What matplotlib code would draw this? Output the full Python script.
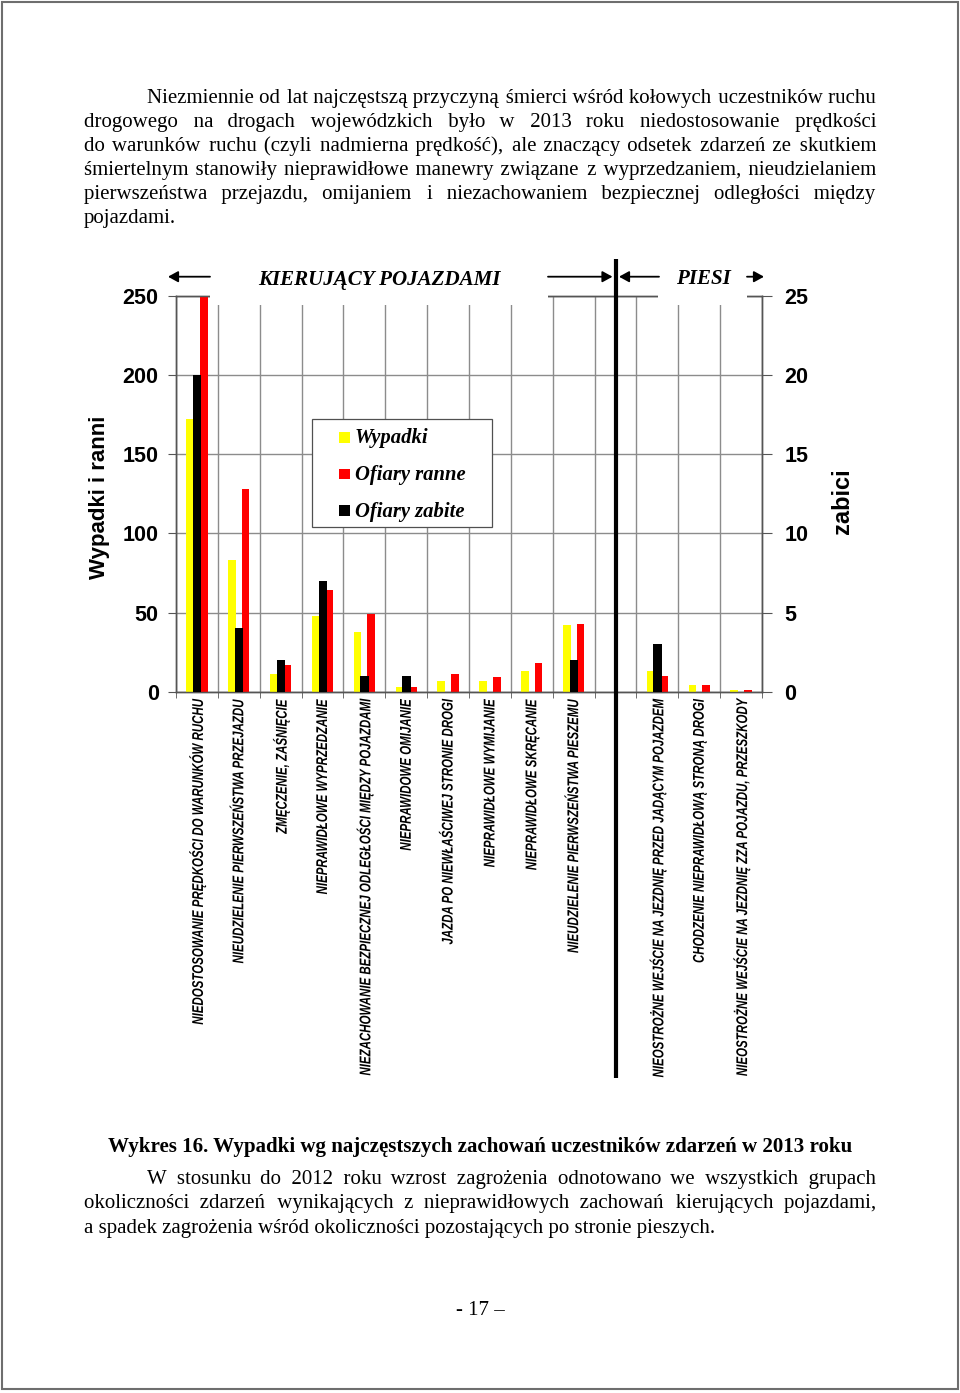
import matplotlib
matplotlib.use('Agg')
import matplotlib.pyplot as plt
import matplotlib.transforms as mtransforms
from matplotlib.patches import Rectangle, FancyArrowPatch
from matplotlib.lines import Line2D
from matplotlib import patheffects
import numpy as np

# ---------------- data ----------------
categories = [
    "NIEDOSTOSOWANIE PRĘDKOŚCI DO WARUNKÓW RUCHU",
    "NIEUDZIELENIE PIERWSZEŃSTWA PRZEJAZDU",
    "ZMĘCZENIE, ZAŚNIĘCIE",
    "NIEPRAWIDŁOWE WYPRZEDZANIE",
    "NIEZACHOWANIE BEZPIECZNEJ ODLEGŁOŚCI MIĘDZY POJAZDAMI",
    "NIEPRAWIDOWE OMIJANIE",
    "JAZDA PO NIEWŁAŚCIWEJ STRONIE DROGI",
    "NIEPRAWIDŁOWE WYMIJANIE",
    "NIEPRAWIDŁOWE SKRĘCANIE",
    "NIEUDZIELENIE PIERWSZEŃSTWA PIESZEMU",
    "",
    "NIEOSTROŻNE WEJŚCIE NA JEZDNIĘ PRZED JADĄCYM POJAZDEM",
    "CHODZENIE NIEPRAWIDŁOWĄ STRONĄ DROGI",
    "NIEOSTROŻNE WEJŚCIE NA JEZDNIĘ ZZA POJAZDU, PRZESZKODY",
]
wypadki = [172, 83, 11, 48, 38, 3, 7, 7, 13, 42, 0, 13, 4, 1]
ranni = [262, 128, 17, 64, 49, 3, 11, 9, 18, 43, 0, 10, 4, 1]
zabici = [20, 4, 2, 7, 1, 1, 0, 0, 0, 2, 0, 3, 0, 0]
left_ticks = [0, 50, 100, 150, 200, 250]
right_ticks = [0, 5, 10, 15, 20, 25]
series_names = ["Wypadki", "Ofiary ranne", "Ofiary zabite"]
series_colors = ["#FFFF00", "#FF0000", "#000000"]
left_label = "Wypadki i ranni"
right_label = "zabici"
group_drivers = "KIERUJĄCY POJAZDAMI"
group_peds = "PIESI"

para1 = [
    "Niezmiennie od lat najczęstszą przyczyną śmierci wśród kołowych uczestników ruchu",
    "drogowego na drogach wojewódzkich było w 2013 roku niedostosowanie prędkości",
    "do warunków ruchu (czyli nadmierna prędkość), ale znaczący odsetek zdarzeń ze skutkiem",
    "śmiertelnym stanowiły nieprawidłowe manewry związane z wyprzedzaniem, nieudzielaniem",
    "pierwszeństwa przejazdu, omijaniem i niezachowaniem bezpiecznej odległości między",
    "pojazdami.",
]
caption = "Wykres 16. Wypadki wg najczęstszych zachowań uczestników zdarzeń w 2013 roku"
para2 = [
    "W stosunku do 2012 roku wzrost zagrożenia odnotowano we wszystkich grupach",
    "okoliczności zdarzeń wynikających z nieprawidłowych zachowań kierujących pojazdami,",
    "a spadek zagrożenia wśród okoliczności pozostających po stronie pieszych.",
]
page_no = "- 17 –"

# ---------------- setup ----------------
plt.rcParams['font.family'] = ['Liberation Sans', 'DejaVu Sans']
W, H = 960, 1393
fig = plt.figure(figsize=(W / 100, H / 100), dpi=100)
fig.patch.set_facecolor('white')
renderer = fig.canvas.get_renderer()


def fx(x):
    return x / W


def fy(y):
    return 1 - y / H


def text_width(s, size, **kw):
    t = fig.text(0, 0, s, fontsize=size, **kw)
    w = t.get_window_extent(renderer).width
    t.remove()
    return w


def fit_size(s, target, **kw):
    return 10 * target / text_width(s, 10, **kw)


class Condense(patheffects.AbstractPathEffect):
    """Squeeze glyphs along the text direction, keeping the text end fixed."""

    def __init__(self, factor):
        super().__init__()
        self.factor = factor

    def draw_path(self, renderer, gc, tpath, affine, rgbFace=None):
        v = tpath.vertices
        x1 = v[:, 0].max() if len(v) else 0.0
        local = mtransforms.Affine2D().translate(-x1, 0).scale(self.factor, 1).translate(x1, 0)
        renderer.draw_path(gc, tpath, local + affine, rgbFace)


SERIF = dict(family=['Liberation Serif', 'DejaVu Serif'])
SANS = ['Liberation Sans', 'DejaVu Sans']


def justified_string(s, total, size, **kw):
    """Build one string whose word gaps (spaces + hair spaces) fill `total` px."""
    words = s.split(' ')
    base = text_width('aa', size, **kw)
    sp = text_width('a a', size, **kw) - base
    hair = text_width('a\u200aa', size, **kw) - base
    if hair < 0.3:
        hair = text_width('a\u2009a', size, **kw) - base
        hch = '\u2009'
    else:
        hch = '\u200a'
    widths = sum(text_width(w, size, **kw) for w in words)
    gap = (total - widths) / (len(words) - 1)
    out = words[0]
    err = 0.0
    for w in words[1:]:
        want = gap + err
        n = max(1, int(want // sp))
        r = want - n * sp
        m = max(0, int(round(r / hair))) if hair > 0.3 else 0
        err = want - (n * sp + m * hair)
        out += ' ' * n + hch * m + w
    return out


def draw_line(s, x0, x1, ybase, size, justify, **kw):
    txt = justified_string(s, x1 - x0, size, **kw) if justify else s
    fig.text(fx(x0), fy(ybase), txt, fontsize=size, va='baseline', ha='left', **kw)


# ---------------- body text ----------------
body_size = fit_size(para2[-1], 632, **SERIF)
base1 = [102.7, 126.7, 150.7, 174.7, 198.7, 222.7]
for i, line in enumerate(para1):
    x0 = 147 if i == 0 else 84
    draw_line(line, x0, 876, base1[i], body_size, i < len(para1) - 1, **SERIF)

cap_size = fit_size(caption, 746, weight='bold', **SERIF)
fig.text(0.5, fy(1151.7), caption, fontsize=cap_size, weight='bold', ha='center',
         va='baseline', **SERIF)
base2 = [1184.3, 1208.3, 1232.5]
for i, line in enumerate(para2):
    x0 = 147 if i == 0 else 84
    draw_line(line, x0, 876, base2[i], body_size, i < len(para2) - 1, **SERIF)
fig.text(fx(480), fy(1315), page_no, fontsize=body_size, ha='center', va='baseline', **SERIF)

# page frame
fig.add_artist(Rectangle((fx(2), fy(1389)), 956 / W, 1387 / H, transform=fig.transFigure,
                         fill=False, edgecolor='#6e6e6e', lw=1.5, zorder=10))

# ---------------- chart ----------------
ax = fig.add_axes([fx(176), fy(691.7), (762 - 176) / W, (691.7 - 296) / H])
x = np.arange(len(categories))
ax.set_xlim(-0.5, len(categories) - 0.5)
ax.set_ylim(left_ticks[0], left_ticks[-1])
ax.bar(x - 0.165, wypadki, 0.18, color=series_colors[0], lw=0, zorder=3)
ax.bar(x + 0.165, ranni, 0.18, color=series_colors[1], lw=0, zorder=3)
ax2 = ax.twinx()
ax2.set_ylim(right_ticks[0], right_ticks[-1])
ax2.bar(x + 0.005, zabici, 0.2, color=series_colors[2], lw=0, zorder=3)

grid_c = '#8c8c8c'
spine_c = '#555555'
ax.set_yticks(left_ticks)
ax.set_xticks(x)
ax.set_xticks(np.arange(-0.5, len(categories) - 0.4, 1.0), minor=True)
ax.yaxis.grid(True, color=grid_c, lw=1.0, zorder=0)
ax.xaxis.grid(True, which='minor', color=grid_c, lw=1.0, zorder=0)
ax.set_axisbelow(True)
for sp in list(ax.spines.values()) + list(ax2.spines.values()):
    sp.set_color(spine_c)
    sp.set_linewidth(1.0)

tick_size = 15.5
ax.tick_params(axis='y', direction='out', length=6, color=spine_c, labelsize=tick_size, pad=6.5)
ax2.set_yticks(right_ticks)
ax2.tick_params(axis='y', direction='out', length=7, color=spine_c, labelsize=tick_size, pad=9)
for lab in ax.get_yticklabels() + ax2.get_yticklabels():
    lab.set_fontweight('bold')

lab_size = 11.2
lab_kw = dict(family=SANS, weight='bold', style='italic')
squeeze = 325 / text_width(categories[0], lab_size, **lab_kw)
ax.set_xticklabels(categories, rotation=90, fontsize=lab_size, fontweight='bold',
                   fontstyle='italic', family=SANS)
for lab in ax.get_xticklabels():
    lab.set_path_effects([Condense(squeeze)])
ax.tick_params(axis='x', which='major', length=0, pad=6)
ax.tick_params(axis='x', which='minor', length=4, direction='out', color=spine_c)

# axis titles
fig.text(fx(99), fy(497), left_label, rotation=90, fontsize=16, weight='bold',
         ha='center', va='center', family=SANS)
fig.text(fx(843), fy(501), right_label, rotation=90, fontsize=17, weight='bold',
         ha='center', va='center', family=SANS)

# white boxes behind group titles (hide the top of the grid)
for (a, b) in [(210, 548), (658, 747)]:
    fig.add_artist(Rectangle((fx(a), fy(305)), (b - a) / W, (305 - 255) / H,
                             transform=fig.transFigure, facecolor='white',
                             edgecolor='none', zorder=5))

grp_size = fit_size(group_drivers, 242, weight='bold', style='italic', **SERIF)
fig.text(fx(379.5), fy(284.5), group_drivers, fontsize=grp_size, weight='bold',
         style='italic', ha='center', va='baseline', zorder=7, **SERIF)
fig.text(fx(703), fy(284), group_peds, fontsize=grp_size, weight='bold',
         style='italic', ha='center', va='baseline', zorder=7, **SERIF)

ya = fy(276.7)
arrows = [(210, 168), (548, 612.5), (659, 619), (747, 764)]
for (a, b) in arrows:
    fig.add_artist(FancyArrowPatch((fx(a), ya), (fx(b), ya), transform=fig.transFigure,
                                   arrowstyle='-|>,head_length=0.6,head_width=0.33',
                                   mutation_scale=10, lw=1.3, color='black',
                                   shrinkA=0, shrinkB=0, zorder=8))

# thick separator between drivers and pedestrians (empty slot)
sep_x = categories.index("")
trans = mtransforms.blended_transform_factory(ax.transData, fig.transFigure)
fig.add_artist(Line2D([sep_x, sep_x], [fy(259), fy(1078)], transform=trans,
                      color='black', lw=3.0, zorder=8, solid_capstyle='butt'))

# legend (framed box with squares and labels)
fig.add_artist(Rectangle((fx(312), fy(527)), (492 - 312) / W, (527 - 419) / H,
                         transform=fig.transFigure, facecolor='white',
                         edgecolor='#505050', lw=0.9, zorder=6))
leg_size = fit_size(series_names[1], 111, weight='bold', style='italic', **SERIF)
leg_base = [443.3, 480, 516.7]
for name, col, yb in zip(series_names, series_colors, leg_base):
    fig.add_artist(Rectangle((fx(339), fy(yb - 0.8)), 10.5 / W, 10.5 / H,
                             transform=fig.transFigure, facecolor=col,
                             edgecolor='none', zorder=7))
    fig.text(fx(355), fy(yb), name, fontsize=leg_size, weight='bold', style='italic',
             ha='left', va='baseline', zorder=7, **SERIF)

fig.savefig('out.png', dpi=100)
